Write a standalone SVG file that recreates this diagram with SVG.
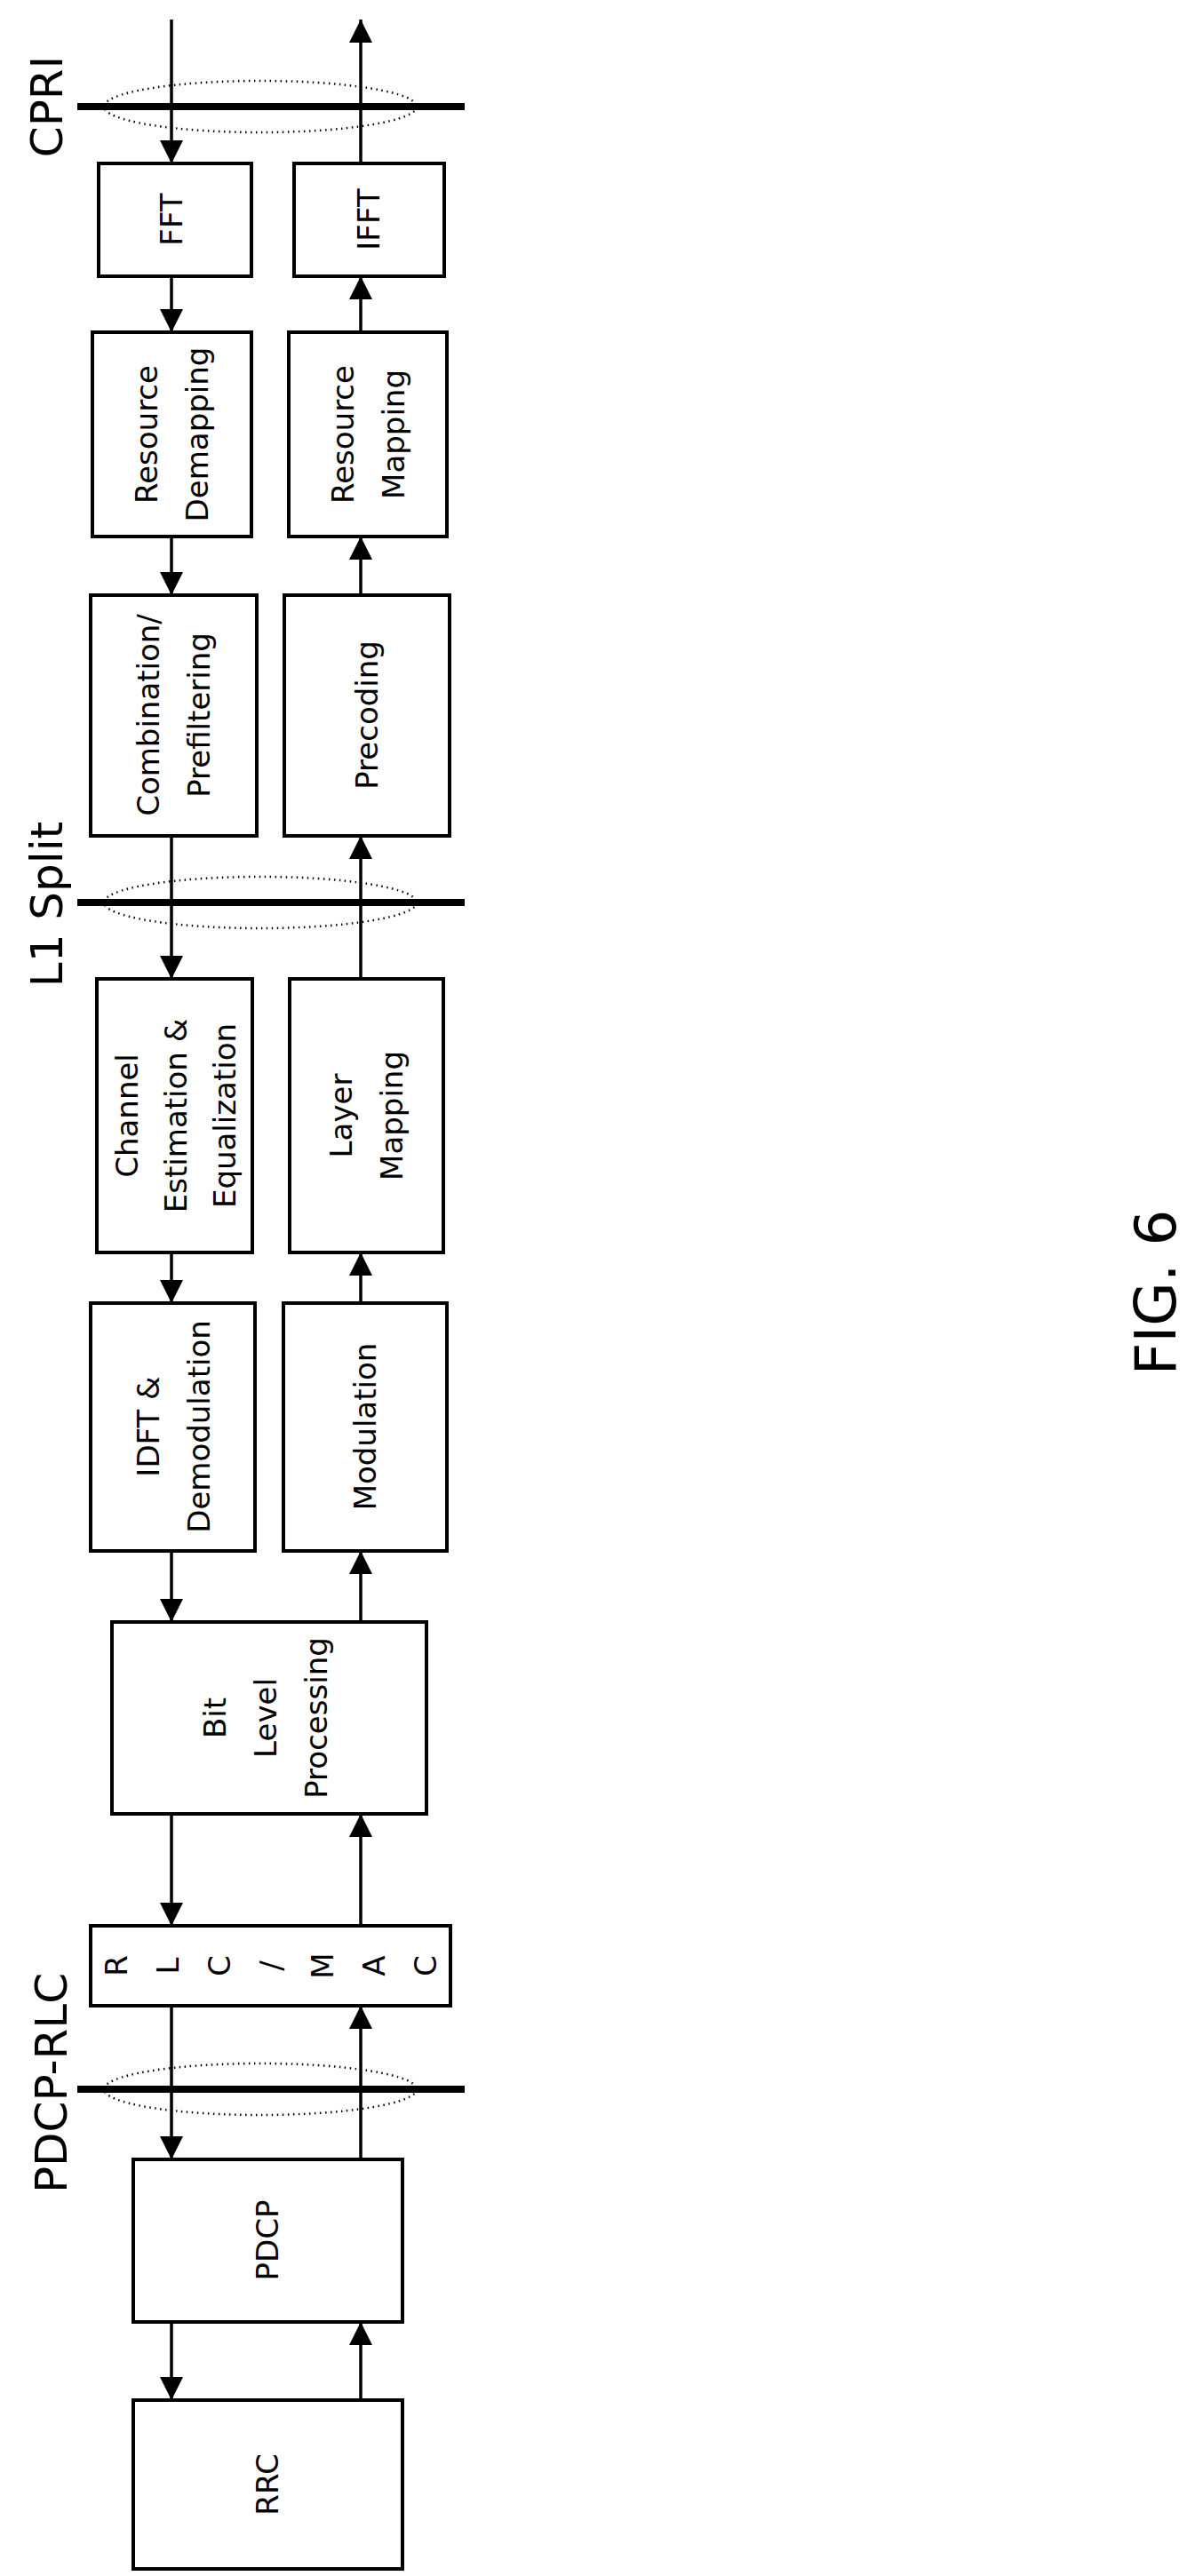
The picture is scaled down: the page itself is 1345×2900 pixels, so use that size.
<svg xmlns="http://www.w3.org/2000/svg" width="1345" height="2900" viewBox="0 0 1345 2900">
<style>
.b{fill:#fff;stroke:#000;stroke-width:4}
.t{font-family:"DejaVu Sans",sans-serif;font-size:34px;text-anchor:middle;fill:#000}
.L{font-family:"DejaVu Sans",sans-serif;font-size:50px;text-anchor:middle;fill:#000}
.c{stroke:#000;stroke-width:3.5;fill:none}
.s{stroke:#000;stroke-width:8}
.e{fill:none;stroke:#000;stroke-width:2.5;stroke-dasharray:1.5 4.5}
</style>
<defs>
<marker id="a" markerUnits="userSpaceOnUse" markerWidth="26" markerHeight="28" refX="26" refY="13" orient="auto"><path d="M0,0 L26,13 L0,26 Z" fill="#000"/></marker>
</defs>
<rect width="1345" height="2900" fill="#fff"/>
<g id="splits">
<line class="s" x1="87" y1="120" x2="523" y2="120"/><ellipse class="e" cx="293" cy="120" rx="176" ry="29"/>
<line class="s" x1="87" y1="1016" x2="523" y2="1016"/><ellipse class="e" cx="293" cy="1016" rx="176" ry="29"/>
<line class="s" x1="87" y1="2352" x2="523" y2="2352"/><ellipse class="e" cx="293" cy="2352" rx="176" ry="29"/>
<text class="L" transform="translate(70,120) rotate(-90)">CPRI</text>
<text class="L" transform="translate(70,1018) rotate(-90)">L1 Split</text>
<text class="L" transform="translate(75,2345) rotate(-90)">PDCP-RLC</text>
</g>
<g id="connectors" marker-end="url(#a)">
<line class="c" x1="193" y1="22" x2="193" y2="184" marker-end="url(#a)"/>
<line class="c" x1="193" y1="311" x2="193" y2="374" marker-end="url(#a)"/>
<line class="c" x1="193" y1="604" x2="193" y2="670" marker-end="url(#a)"/>
<line class="c" x1="193" y1="941" x2="193" y2="1102" marker-end="url(#a)"/>
<line class="c" x1="193" y1="1410" x2="193" y2="1467" marker-end="url(#a)"/>
<line class="c" x1="193" y1="1746" x2="193" y2="1826" marker-end="url(#a)"/>
<line class="c" x1="193" y1="2042" x2="193" y2="2168" marker-end="url(#a)"/>
<line class="c" x1="193" y1="2258" x2="193" y2="2431" marker-end="url(#a)"/>
<line class="c" x1="193" y1="2614" x2="193" y2="2702" marker-end="url(#a)"/>
<line class="c" x1="406" y1="184" x2="406" y2="22" marker-end="url(#a)"/>
<line class="c" x1="406" y1="374" x2="406" y2="311" marker-end="url(#a)"/>
<line class="c" x1="406" y1="670" x2="406" y2="604" marker-end="url(#a)"/>
<line class="c" x1="406" y1="1102" x2="406" y2="941" marker-end="url(#a)"/>
<line class="c" x1="406" y1="1467" x2="406" y2="1410" marker-end="url(#a)"/>
<line class="c" x1="406" y1="1826" x2="406" y2="1746" marker-end="url(#a)"/>
<line class="c" x1="406" y1="2168" x2="406" y2="2042" marker-end="url(#a)"/>
<line class="c" x1="406" y1="2431" x2="406" y2="2258" marker-end="url(#a)"/>
<line class="c" x1="406" y1="2702" x2="406" y2="2614" marker-end="url(#a)"/>
</g>
<g id="fft"><rect class="b" x="111" y="184" width="172" height="127"/><text class="t" transform="translate(193,247) rotate(-90)" y="12">FFT</text></g>
<g id="ifft"><rect class="b" x="331" y="184" width="169" height="127"/><text class="t" transform="translate(415,247) rotate(-90)" y="12">IFFT</text></g>
<g id="resdemap"><rect class="b" x="104" y="374" width="179" height="230"/><text class="t" transform="translate(193,489) rotate(-90)"><tspan x="0" y="-16">Resource</tspan><tspan x="0" y="41">Demapping</tspan></text></g>
<g id="resmap"><rect class="b" x="325" y="374" width="178" height="230"/><text class="t" transform="translate(414,489) rotate(-90)"><tspan x="0" y="-16">Resource</tspan><tspan x="0" y="41">Mapping</tspan></text></g>
<g id="comb"><rect class="b" x="102" y="670" width="187" height="271"/><text class="t" transform="translate(195,805) rotate(-90)"><tspan x="0" y="-16">Combination/</tspan><tspan x="0" y="41">Prefiltering</tspan></text></g>
<g id="precoding"><rect class="b" x="320" y="670" width="186" height="271"/><text class="t" transform="translate(413,805) rotate(-90)" y="12">Precoding</text></g>
<g id="channel"><rect class="b" x="109" y="1102" width="175" height="308"/><text class="t" transform="translate(196,1256) rotate(-90)"><tspan x="0" y="-41">Channel</tspan><tspan x="0" y="14">Estimation &amp;</tspan><tspan x="0" y="69">Equalization</tspan></text></g>
<g id="layer"><rect class="b" x="326" y="1102" width="173" height="308"/><text class="t" transform="translate(412,1256) rotate(-90)"><tspan x="0" y="-16">Layer</tspan><tspan x="0" y="41">Mapping</tspan></text></g>
<g id="idft"><rect class="b" x="102" y="1467" width="185" height="279"/><text class="t" transform="translate(195,1606) rotate(-90)"><tspan x="0" y="-16">IDFT &amp;</tspan><tspan x="0" y="41">Demodulation</tspan></text></g>
<g id="modulation"><rect class="b" x="319" y="1467" width="184" height="279"/><text class="t" transform="translate(411,1606) rotate(-90)" y="12">Modulation</text></g>
<g id="bit"><rect class="b" x="126" y="1826" width="354" height="216"/><text class="t" transform="translate(298,1934) rotate(-90)"><tspan x="0" y="-44">Bit</tspan><tspan x="0" y="13">Level</tspan><tspan x="0" y="70">Processing</tspan></text></g>
<g id="rlcmac"><rect class="b" x="102" y="2168" width="405" height="90"/><text class="t" transform="translate(305,2213) rotate(-90)"><tspan x="0" y="-162">R</tspan><tspan x="0" y="-104">L</tspan><tspan x="0" y="-46">C</tspan><tspan x="0" y="12">/</tspan><tspan x="0" y="70">M</tspan><tspan x="0" y="128">A</tspan><tspan x="0" y="186">C</tspan></text></g>
<g id="pdcp"><rect class="b" x="150" y="2431" width="303" height="183"/><text class="t" transform="translate(301,2522) rotate(-90)" y="12">PDCP</text></g>
<g id="rrc"><rect class="b" x="150" y="2702" width="303" height="190"/><text class="t" transform="translate(301,2797) rotate(-90)" y="12">RRC</text></g>
<text id="fig" font-family="DejaVu Sans,sans-serif" font-size="64" text-anchor="middle" transform="translate(1300,1455) rotate(-90)" y="23">FIG. 6</text>
</svg>
